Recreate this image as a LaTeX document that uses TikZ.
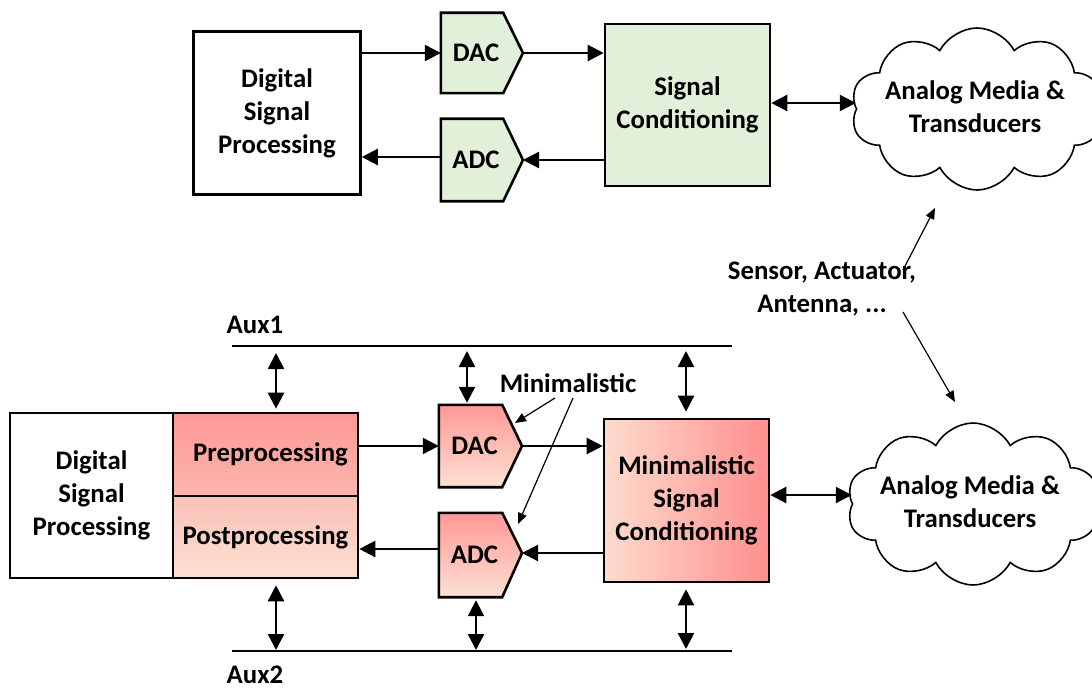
\documentclass[tikz,border=0pt]{standalone}
\usepackage{fontspec}
\setmainfont{Carlito}
\usetikzlibrary{arrows.meta,shapes.symbols,calc}
\definecolor{scgreen}{HTML}{E2EFD9}
\definecolor{redA}{HTML}{FF9896}
\definecolor{redB}{HTML}{FCB6AD}
\definecolor{redC}{HTML}{FBC0B6}
\definecolor{redD}{HTML}{FCE1D3}
\definecolor{redE}{HTML}{FF8F8F}
\definecolor{redF}{HTML}{FDDCCD}
% converter outline: rectangle part is the node, pointer added on the east side
\newcommand\convshape[2]{%
  \draw[line width=2.6pt,#2] (#1.north west) -- (#1.north east) -- (#1-tip)
    -- (#1.south east) -- (#1.south west) -- cycle;
  \node[lbl] at (#1) {\convtext};}
\begin{document}
\begin{tikzpicture}[x=1pt,y=-1pt,
  lbl/.style={font=\fontsize{26.8}{33}\selectfont\bfseries, align=center},
  box/.style={draw, line width=2.6pt, inner sep=0, lbl},
  conv/.style={inner sep=0, lbl},
  arr/.style={line width=2.4pt, -{Triangle[length=16pt,width=16pt]}},
  darr/.style={line width=2.4pt, {Triangle[length=16pt,width=16pt]}-{Triangle[length=16pt,width=16pt]}},
  note/.style={line width=1.2pt, -{Triangle[length=11pt,width=9pt]}},
  bus/.style={line width=2.6pt},
  cloudy/.style={cloud, draw, line width=1.6pt, cloud puffs=10, cloud puff arc=125,
    cloud ignores aspect, inner sep=0, minimum width=252pt, minimum height=162pt}
]
\useasboundingbox (0,0) rectangle (1092,690);
\clip (0,0) rectangle (1092,690);

% ---------------- upper chain ----------------
\node[box, minimum width=167pt, minimum height=163pt] (dsp1) at (277,113)
  {Digital\\Signal\\Processing};
\node[conv, minimum width=62pt, minimum height=80pt] (dac1) at (472,53) {};
\coordinate (dac1-tip) at (523,53);
\node[conv, minimum width=62pt, minimum height=82pt] (adc1) at (472,160) {};
\coordinate (adc1-tip) at (523,160);
\def\convtext{\hspace*{8pt}DAC}\convshape{dac1}{fill=scgreen}
\def\convtext{\hspace*{8pt}ADC}\convshape{adc1}{fill=scgreen}
\node[box, fill=scgreen, minimum width=165pt, minimum height=162pt] (sc1) at (687.5,105)
  {Signal\\Conditioning};
\node[cloudy] (cloud1) at (977,109) {};
\node[lbl] (cloud1t) at (975,107) {Analog Media \&\\Transducers};

\draw[arr] (dsp1.east |- dac1.west) -- (dac1.west);
\draw[arr] (dac1-tip) -- (dac1-tip -| sc1.west);
\draw[arr] (sc1.west |- adc1-tip) -- (adc1-tip);
\draw[arr] (adc1.west |- 0,157) -- (dsp1.east |- 0,157);
\draw[darr] (sc1.east |- 0,103) -- (cloud1.west |- 0,103);

% ---------------- transducer note ----------------
\node[lbl] (sens) at (822,289) {Sensor, Actuator,\\Antenna, ...};
\coordinate (sensA) at (935,208);
\coordinate (sensB) at (955,402);
\draw[note] (903,270) -- (sensA);
\draw[note] (903,312) -- (sensB);

% ---------------- lower chain ----------------
\node[box, minimum width=163pt, minimum height=165pt] (dsp2) at (91.5,495.5)
  {Digital\\Signal\\Processing};
\node[box, minimum width=185pt, minimum height=83pt, top color=redA, bottom color=redB]
  (pre) at (265.5,454.5) {\hspace*{10pt}Preprocessing};
\node[box, minimum width=185pt, minimum height=82pt, top color=redC, bottom color=redD]
  (post) at (265.5,537) {Postprocessing};
\node[conv, minimum width=63pt, minimum height=82pt] (dac2) at (470.5,446) {};
\coordinate (dac2-tip) at (522,446);
\node[conv, minimum width=63pt, minimum height=84pt] (adc2) at (470.5,555) {};
\coordinate (adc2-tip) at (522,553);
\def\convtext{\hspace*{8pt}DAC}\convshape{dac2}{top color=redA, bottom color=redD}
\def\convtext{\hspace*{8pt}ADC}\convshape{adc2}{top color=redA, bottom color=redD}
\node[box, minimum width=165pt, minimum height=163pt, left color=redF, right color=redE]
  (msc) at (686.5,500.5) {Minimalistic\\Signal\\Conditioning};
\node[cloudy] (cloud2) at (973,504) {};
\node[lbl] (cloud2t) at (970,502) {Analog Media \&\\Transducers};

\draw[arr] (pre.east |- dac2.west) -- (dac2.west);
\draw[arr] (dac2-tip) -- (dac2-tip -| msc.west);
\draw[arr] (msc.west |- adc2-tip) -- (adc2-tip);
\draw[arr] (adc2.west |- 0,549) -- (post.east |- 0,549);
\draw[darr] (msc.east |- 0,495) -- (cloud2.west |- 0,495);

% ---------------- auxiliary buses ----------------
\node[lbl] (aux1) at (255,325) {Aux1};
\node[lbl] (aux2) at (255,675) {Aux2};
\coordinate (bus1l) at (232,346);
\coordinate (bus1r) at (732,346);
\coordinate (bus2l) at (232,651);
\coordinate (bus2r) at (732,651);
\draw[bus] (bus1l) -- (bus1r);
\draw[bus] (bus2l) -- (bus2r);

\draw[darr, shorten <=7pt, shorten >=3pt] (bus1l -| 276,0) -- (pre.north -| 276,0);
\draw[darr, shorten <=5pt, shorten >=2pt] (bus1l -| 467,0) -- (dac2.north -| 467,0);
\draw[darr, shorten <=5pt, shorten >=6pt] (bus1l -| 686,0) -- (msc.north -| 686,0);
\draw[darr, shorten <=6pt, shorten >=1pt] (post.south -| 276,0) -- (bus2l -| 276,0);
\draw[darr, shorten <=3pt, shorten >=1pt] (adc2.south -| 476,0) -- (bus2l -| 476,0);
\draw[darr, shorten <=6pt, shorten >=2pt] (msc.south -| 686,0) -- (bus2l -| 686,0);

% ---------------- minimalistic note ----------------
\node[lbl] (mini) at (568,383) {Minimalistic};
\draw[note] (555,398) -- (515,423);
\draw[note] (573,398) -- (518,524);
\end{tikzpicture}
\end{document}
